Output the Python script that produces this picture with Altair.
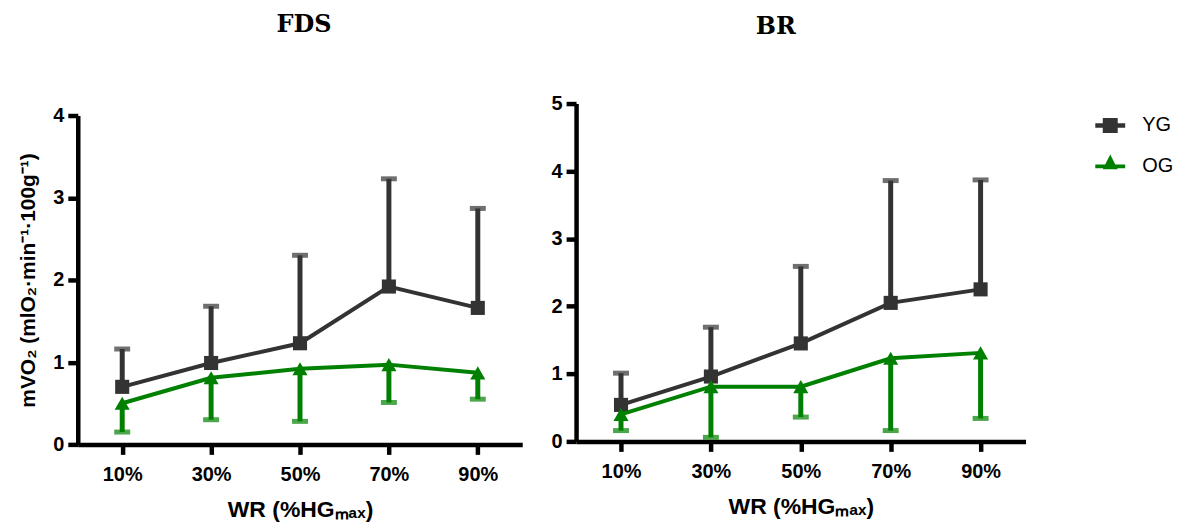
import altair as alt
import pandas as pd

# ---- data ----
wr_levels = ["10%", "30%", "50%", "70%", "90%"]
groups = ["YG", "OG"]

fds_yg_mean = [0.70, 0.99, 1.23, 1.92, 1.66]
fds_yg_sd = [0.46, 0.69, 1.07, 1.31, 1.21]
fds_og_mean = [0.50, 0.81, 0.92, 0.97, 0.87]
fds_og_sd = [0.35, 0.51, 0.64, 0.46, 0.32]

br_yg_mean = [0.54, 0.96, 1.45, 2.05, 2.25]
br_yg_sd = [0.47, 0.73, 1.14, 1.81, 1.62]
br_og_mean = [0.40, 0.81, 0.81, 1.23, 1.31]
br_og_sd = [0.24, 0.75, 0.45, 1.07, 0.97]

yg_color = "#333333"
og_color = "#008000"

LABEL_FONT = "Liberation Sans"
TITLE_FONT = "DejaVu Serif"


def make_df(yg_mean, yg_sd, og_mean, og_sd):
    rows = []
    for i, w in enumerate(wr_levels):
        rows.append({"wr": w, "group": "YG", "mean": yg_mean[i],
                     "lo": yg_mean[i], "hi": yg_mean[i] + yg_sd[i],
                     "cap": yg_mean[i] + yg_sd[i]})
        rows.append({"wr": w, "group": "OG", "mean": og_mean[i],
                     "lo": og_mean[i] - og_sd[i], "hi": og_mean[i],
                     "cap": og_mean[i] - og_sd[i]})
    return pd.DataFrame(rows)


def panel(title, df, ymax, width, height, yrange, ytitle, title_dx, title_offset, legend):
    xaxis = alt.Axis(
        title="WR (%HGₘₐₓ)", labelAngle=0, labelFont=LABEL_FONT, labelFontSize=20,
        labelFontWeight="bold", labelColor="black", labelPadding=10,
        tickSize=10, tickWidth=4.5, tickColor="black", domainWidth=4.5,
        domainColor="black", titleFont=LABEL_FONT, titleFontSize=23,
        titleFontWeight="bold", titleColor="black", titlePadding=14, grid=False,
    )
    yaxis = alt.Axis(
        title=ytitle if ytitle else None, values=list(range(0, ymax + 1)),
        labelFont=LABEL_FONT, labelFontSize=20, labelFontWeight="bold",
        labelColor="black", labelPadding=4, tickSize=10, tickWidth=4.5,
        tickColor="black", domainWidth=4.5, domainColor="black",
        titleFont=LABEL_FONT, titleFontSize=21, titleFontWeight="bold",
        titleColor="black", titlePadding=14, grid=False,
    )
    x = alt.X("wr:O", sort=wr_levels, scale=alt.Scale(type="point", padding=0.5), axis=xaxis)
    yscale = alt.Scale(domain=[0, ymax], nice=False, zero=True, range=yrange)

    base = alt.Chart(df)
    layers = []
    for g, col, shp, sz in [("YG", yg_color, "square", 200), ("OG", og_color, "triangle-up", 230)]:
        b = base.transform_filter(alt.datum.group == g)
        layers.append(b.mark_rule(color=col, strokeWidth=5).encode(
            x=x, y=alt.Y("lo:Q", scale=yscale, axis=yaxis), y2="hi:Q"))
        layers.append(b.mark_tick(color=col, thickness=5, size=16).encode(
            x=x, y=alt.Y("cap:Q", scale=yscale, axis=yaxis)))
        layers.append(b.mark_line(color=col, strokeWidth=4).encode(
            x=x, y=alt.Y("mean:Q", scale=yscale, axis=yaxis)))
        layers.append(b.mark_point(color=col, fill=col, filled=True, shape=shp, size=sz, opacity=1).encode(
            x=x, y=alt.Y("mean:Q", scale=yscale, axis=yaxis)))
    if legend:
        sq_path = ("M-1,-0.15H1V0.15H-1Z "
                   "M-0.5,-0.5H0.5V0.5H-0.5Z")
        tri_path = ("M-1,-0.13H1V0.13H-1Z "
                    "M0,-0.8L0.5,0.2H-0.5Z")
        lg = alt.Legend(title=None, orient="right", offset=63, padding=7,
                        symbolSize=900, symbolStrokeWidth=0, labelFont=LABEL_FONT,
                        labelFontSize=20, labelColor="black", labelOffset=17,
                        rowPadding=16)
        layers.append(
            base.transform_filter("false").mark_point(filled=True, opacity=1).encode(
                x=x, y=alt.Y("mean:Q", scale=yscale, axis=yaxis),
                shape=alt.Shape("Group:N", scale=alt.Scale(domain=groups, range=[sq_path, tri_path]), legend=lg),
                fill=alt.Fill("Group:N", scale=alt.Scale(domain=groups, range=[yg_color, og_color]), legend=lg),
            )
        )
    return alt.layer(*layers).properties(
        width=width, height=height,
        title=alt.TitleParams(text=title, font=TITLE_FONT, fontSize=24, fontWeight="bold",
                              color="black", anchor="middle", frame="group",
                              offset=title_offset, dx=title_dx),
    )


fds = panel("FDS", make_df(fds_yg_mean, fds_yg_sd, fds_og_mean, fds_og_sd), 4, 446, 342, [342, 12],
            "mVO₂ (mlO₂·min⁻¹·100g⁻¹)", 4, 67, False)
br = panel("BR", make_df(br_yg_mean, br_yg_sd, br_og_mean, br_og_sd), 5, 451, 339, [339, 0],
           None, -25, 55, True)

chart = alt.hconcat(fds, br, spacing=28).properties(
    padding={"left": 9, "top": 4, "right": 0, "bottom": 0}
).configure_view(stroke=None)

chart.save("out.html", embed_options={"renderer": "svg", "actions": False})
